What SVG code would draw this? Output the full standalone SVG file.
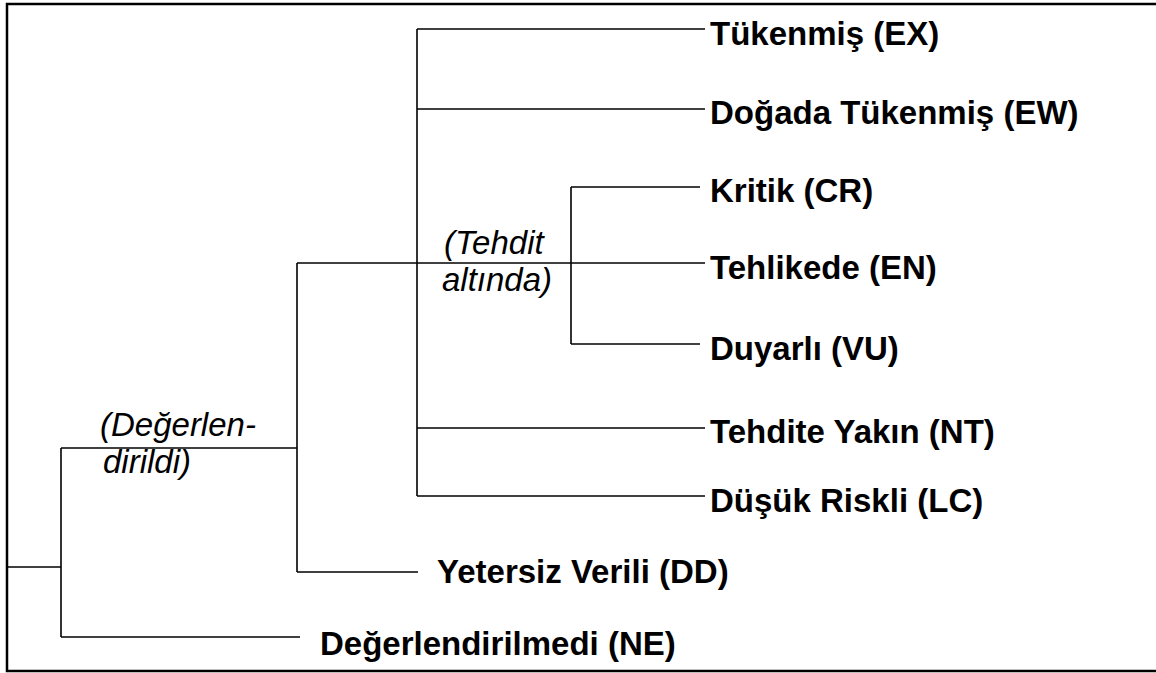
<svg xmlns="http://www.w3.org/2000/svg" width="1156" height="673" viewBox="0 0 1156 673">
<style>
.bg{fill:#ffffff}
.frame{fill:none;stroke:#000;stroke-width:2.5}
.ln{fill:none;stroke:#000;stroke-width:1.6}
.lb{font-family:"Liberation Sans",Arial,sans-serif;font-weight:bold;font-size:33px;fill:#000}
.it{font-family:"Liberation Sans",Arial,sans-serif;font-style:italic;font-size:33px;fill:#000}
</style>
<rect class="bg" x="0" y="0" width="1156" height="673"/>
<rect class="frame" x="7" y="4" width="1170" height="667"/>
<g id="connectors">
<path class="ln" d="M8,567 H61"/>
<path class="ln" d="M61,448 V637"/>
<path class="ln" d="M61,637 H300"/>
<path class="ln" d="M61,448 H297"/>
<path class="ln" d="M297,263 V572"/>
<path class="ln" d="M297,572 H418"/>
<path class="ln" d="M297,263 H705"/>
<path class="ln" d="M417,29 V496"/>
<path class="ln" d="M417,29 H705"/>
<path class="ln" d="M417,109 H705"/>
<path class="ln" d="M571,187 V344"/>
<path class="ln" d="M571,187 H700"/>
<path class="ln" d="M571,344 H700"/>
<path class="ln" d="M417,428 H705"/>
<path class="ln" d="M417,496 H705"/>
</g>
<g id="assessed"><text class="it" x="100" y="436">(Değerlen-</text><text class="it" x="103" y="473">dirildi)</text></g>
<g id="threatened"><text class="it" x="444" y="254">(Tehdit</text><text class="it" x="442" y="291">altında)</text></g>
<g id="ex"><text class="lb" x="710" y="45">Tükenmiş (EX)</text></g>
<g id="ew"><text class="lb" x="710" y="124">Doğada Tükenmiş (EW)</text></g>
<g id="cr"><text class="lb" x="710" y="202">Kritik (CR)</text></g>
<g id="en"><text class="lb" x="710" y="279">Tehlikede (EN)</text></g>
<g id="vu"><text class="lb" x="710" y="360">Duyarlı (VU)</text></g>
<g id="nt"><text class="lb" x="710" y="443">Tehdite Yakın (NT)</text></g>
<g id="lc"><text class="lb" x="710" y="512">Düşük Riskli (LC)</text></g>
<g id="dd"><text class="lb" x="437" y="583">Yetersiz Verili (DD)</text></g>
<g id="ne"><text class="lb" x="320" y="655">Değerlendirilmedi (NE)</text></g>
</svg>
